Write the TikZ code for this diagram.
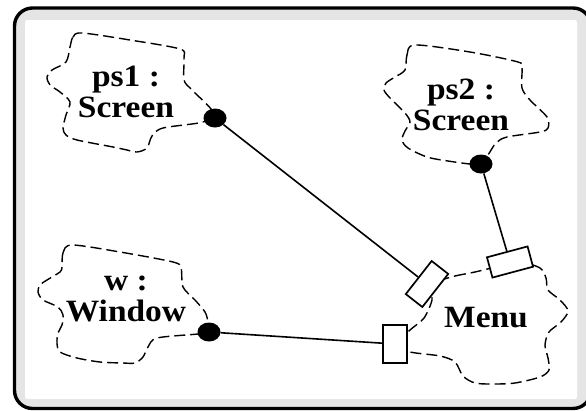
\documentclass[tikz,border=0pt]{standalone}
\usepackage{fontspec}
\setmainfont{Liberation Serif}[FakeStretch=1.08]
\usetikzlibrary{shapes.geometric}

\begin{document}
\begin{tikzpicture}[x=1pt, y=-1pt,
    obj/.style={font=\fontsize{31}{31}\selectfont\bfseries, align=center, inner sep=0pt},
    cloudline/.style={line width=1.4pt, dash pattern=on 11pt off 5pt},
    dot/.style={ellipse, fill=black, minimum width=23pt, minimum height=19pt, inner sep=0pt},
    port/.style={draw, fill=white, line width=1.7pt, minimum width=21pt, minimum height=42pt, inner sep=0pt},
    link/.style={line width=1.6pt}
]
\useasboundingbox (0,0) rectangle (586,410);
% frame
\draw[line width=3.4pt, fill=black!10, rounded corners=18pt] (14.5,8) rectangle (591,408.5);
\fill[white, rounded corners=2pt] (25,20) rectangle (577,399);

% cloud outlines
\draw[cloudline] plot[smooth cycle] coordinates {(70,47) (73,37) (82,33) (130,40) (180,49) (184,58) (184,80) (192,90) (213,112) (203,122) (163,128) (152,136) (147,148) (137,152) (127,150) (113,147) (77,140) (66,135) (63,128) (66,115) (70,102) (60,92) (50,85) (47,77) (52,70) (66,62)};
\draw[cloudline] plot[smooth cycle] coordinates {(405,70) (407,55) (415,45) (470,52) (518,62) (522,68) (522,88) (530,100) (547,117) (548,128) (540,132) (507,137) (496,143) (488,155) (481,164) (470,164) (448,161) (427,157) (408,148) (402,140) (405,131) (410,122) (405,113) (390,98) (384,90) (386,83) (395,77)};
\draw[cloudline] plot[smooth cycle] coordinates {(62,267) (63,253) (72,245) (120,252) (173,262) (181,268) (183,287) (195,300) (205,312) (208,322) (209,332) (198,334) (157,338) (148,347) (143,357) (135,363) (123,363) (100,362) (77,358) (60,352) (57,343) (58,333) (62,325) (63,315) (58,307) (43,300) (38,292) (40,285) (47,280) (60,272)};
\draw[cloudline] plot[smooth cycle] coordinates {(436,282) (455,276) (475,272) (500,266) (520,262) (540,268) (546,278) (548,290) (560,300) (568,311) (561,322) (549,332) (545,345) (548,358) (549,370) (540,377) (515,383) (493,384) (475,383) (463,376) (455,362) (440,356) (410,352) (395,345) (410,330) (424,318) (432,300) (430,288)};

% objects
\node[obj] (S1) at (126,92) {ps1 :\\Screen};
\node[obj] (S2) at (461,105) {ps2 :\\Screen};
\node[obj] (W) at (126,299) {w :\\Window};
\node[obj] (M) at (486,318) {Menu};

% ports and dots
\node[port, rotate=-38] (p1) at (427,284) {};
\node[port, rotate=-75] (p2) at (510,262) {};
\node[port, minimum width=24pt, minimum height=38pt] (pw) at (395,344) {};
\node[dot] (d1) at (215,118) {};
\node[dot] (d2) at (481,164) {};
\node[dot] (dw) at (209,332) {};

% links
\draw[link] (d1) -- (p1);
\draw[link] (d2) -- (p2);
\draw[link] (dw) -- (pw);
\end{tikzpicture}
\end{document}
